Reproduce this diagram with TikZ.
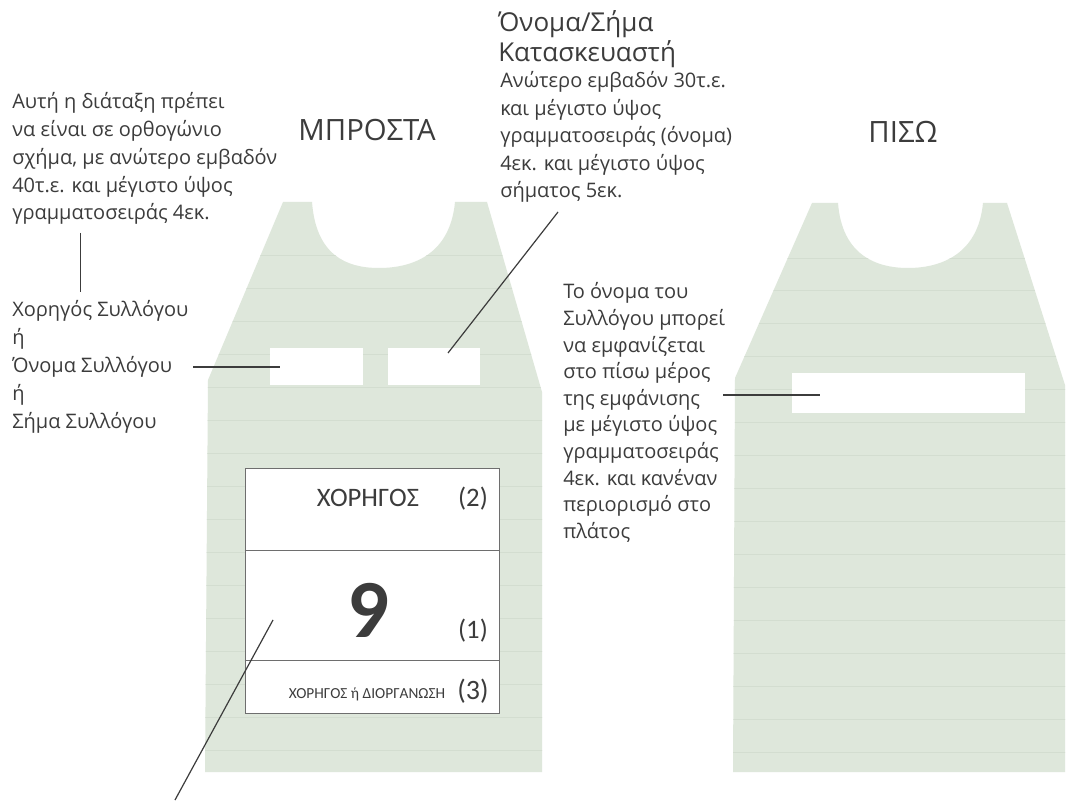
\documentclass[tikz,border=0pt]{standalone}
\usepackage{fontspec}
\setmainfont{Open Sans}
\newfontfamily\boxfont{Carlito}
\definecolor{shirt}{RGB}{222,231,219}
\definecolor{shirtline}{RGB}{211,221,208}
\definecolor{ink}{RGB}{60,60,60}
\definecolor{lineink}{RGB}{60,60,60}
\definecolor{boxline}{RGB}{110,110,110}
\newcommand\frontshirtpath{(283,202) -- (208,380) -- (205,772) -- (542,772) -- (542,392) -- (487,202) -- (455,202) .. controls (450,255) and (412,268) .. (379,268) .. controls (346,268) and (316,255) .. (312,202) -- cycle}
\newcommand\backshirtpath{(812,203) -- (735,378) -- (733,772) -- (1065,772) -- (1065,385) -- (1007,203) -- (983,203) .. controls (978,255) and (940,268) .. (908,268) .. controls (876,268) and (842,255) .. (838,203) -- cycle}
\begin{document}
\begin{tikzpicture}[x=0.75pt,y=-0.75pt,
  lbl/.style={inner sep=0pt, text=ink, font=\fontsize{15}{18}\selectfont},
  bigl/.style={inner sep=0pt, text=ink, font=\fontsize{19.5}{23}\selectfont},
  title/.style={inner sep=0pt, text=ink, font=\fontsize{22}{26}\selectfont},
  boxt/.style={inner sep=0pt, text=ink, font=\boxfont\fontsize{20}{24}\selectfont},
  conn/.style={draw=lineink, line width=0.9pt},
  rectw/.style={fill=white, inner sep=0pt},
  faint/.style={draw=shirtline, line width=0.4pt}]
\useasboundingbox (0,0) rectangle (1067,812);
\fill[white] (0,0) rectangle (1067,812);
% shirts
\path[fill=shirt] \frontshirtpath;
\path[fill=shirt] \backshirtpath;
\begin{scope}
\clip \frontshirtpath;
\foreach \yy in {255,288,321,354,387,420,453,486,519,552,585,618,651,684,717,750}
  \draw[faint] (190,\yy) -- (560,\yy);
\end{scope}
\begin{scope}
\clip \backshirtpath;
\foreach \yy in {258,290,323,356,389,422,455,488,521,554,587,620,653,686,719,752}
  \draw[faint] (720,\yy) -- (1067,\yy);
\end{scope}
% white patches
\node[rectw, minimum width=69.75pt, minimum height=27.75pt] (r1) at (316.5,366.5) {};
\node[rectw, minimum width=69pt, minimum height=27.75pt] (r2) at (434,366.5) {};
\node[rectw, minimum width=174.75pt, minimum height=30pt] (r3) at (908.5,393) {};
% number box
\node[draw=boxline, line width=0.6pt, fill=white, minimum width=190.5pt, minimum height=183.75pt, inner sep=0pt] (nb) at (372,590.5) {};
\draw[boxline, line width=0.6pt] (nb.west |- 0,550) -- (nb.east |- 0,550);
\draw[boxline, line width=0.6pt] (nb.west |- 0,660) -- (nb.east |- 0,660);
\node[boxt, anchor=base] (sp2) at (368,507) {ΧΟΡΗΓΟΣ};
\node[boxt, anchor=base] (n2) at (473,507) {(2)};
\node[inner sep=0pt, text=ink, font=\boxfont\bfseries\fontsize{62}{62}\selectfont, anchor=base] (nine) at (368,637) {9};
\node[boxt, anchor=base] (n1) at (473,638) {(1)};
\node[inner sep=0pt, text=ink, font=\boxfont\fontsize{11.5}{13}\selectfont, anchor=base] (sp3) at (367,698) {ΧΟΡΗΓΟΣ ή ΔΙΟΡΓΑΝΩΣΗ};
\node[boxt, font=\boxfont\fontsize{21}{25}\selectfont, anchor=base] (n3) at (473,699) {(3)};
% titles
\node[title, anchor=base] (front) at (367,141) {ΜΠΡΟΣΤΑ};
\node[title, anchor=base] (back) at (903,143) {ΠΙΣΩ};
% top-left text
\foreach \t [count=\i] in {Αυτή η διάταξη πρέπει, να είναι σε ορθογώνιο, {σχήμα, με ανώτερο εμβαδόν}, 40τ.ε. και μέγιστο ύψος, γραμματοσειράς 4εκ.}
  \node[lbl, anchor=base west] (tl\i) at (12,{109+27.7*(\i-1)}) {\t};
% left middle text
\foreach \t [count=\i] in {Χορηγός Συλλόγου, ή, Όνομα Συλλόγου, ή, Σήμα Συλλόγου}
  \node[lbl, anchor=base west] (lm\i) at (12,{317+27.8*(\i-1)}) {\t};
% top-right heading and text
\node[bigl, anchor=base west] (mh1) at (498,32) {Όνομα/Σήμα};
\node[bigl, anchor=base west] (mh2) at (498,62) {Κατασκευαστή};
\foreach \t [count=\i] in {Ανώτερο εμβαδόν 30τ.ε., και μέγιστο ύψος, γραμματοσειράς (όνομα), 4εκ. και μέγιστο ύψος, σήματος 5εκ.}
  \node[lbl, anchor=base west] (mt\i) at (500,{88+27.5*(\i-1)}) {\t};
% right middle text
\foreach \t [count=\i] in {Το όνομα του, Συλλόγου μπορεί, να εμφανίζεται, στο πίσω μέρος, της εμφάνισης, με μέγιστο ύψος, γραμματοσειράς, 4εκ. και κανέναν, περιορισμό στο, πλάτος}
  \node[lbl, anchor=base west] (rm\i) at (563,{299+26.6*(\i-1)}) {\t};
% connector ends
\coordinate (c1a) at (80,233);
\coordinate (c1b) at (80,292);
\coordinate (c2a) at (193,367);
\coordinate (c2b) at (280,367);
\coordinate (c3a) at (448,353);
\coordinate (c3b) at (558,212);
\coordinate (c4a) at (723,395);
\coordinate (c4b) at (820,395);
\coordinate (c5a) at (273,620);
\coordinate (c5b) at (175,800);
\draw[conn, line width=0.7pt] (c1a) -- (c1b);
\draw[conn] (c2a) -- (c2b);
\draw[conn] (c3a) -- (c3b);
\draw[conn, line width=1.3pt] (c4a) -- (c4b);
\draw[conn] (c5a) -- (c5b);
\end{tikzpicture}
\end{document}
